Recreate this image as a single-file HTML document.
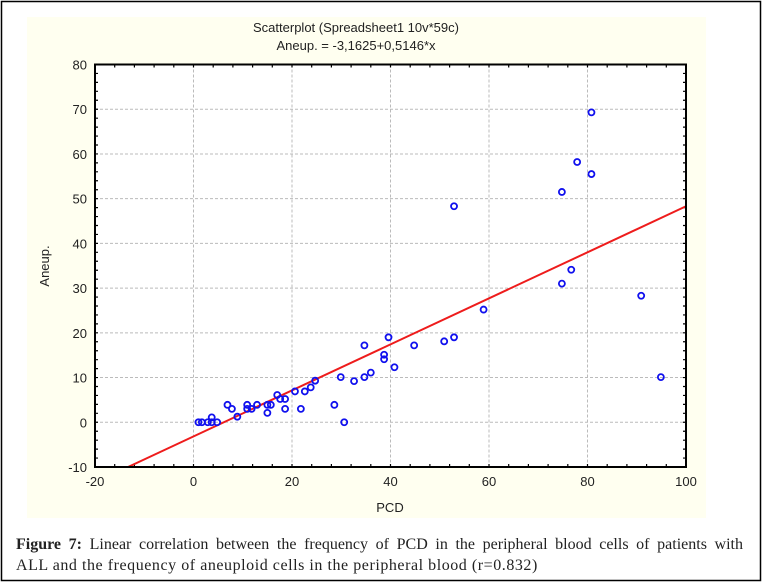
<!DOCTYPE html>
<html><head><meta charset="utf-8"><style>
body{margin:0;background:#fff;}
#wrap{position:relative;width:764px;height:584px;overflow:hidden;background:#fff;}
.cap{position:absolute;left:16px;width:727px;font-family:"Liberation Serif",serif;font-size:16px;line-height:20px;color:#222;white-space:nowrap;}
#cap1{top:535px;text-align:justify;text-align-last:justify;}
#cap2{top:556px;letter-spacing:0.55px;}
</style></head><body>
<div id="wrap">
<svg width="764" height="584" style="position:absolute;left:0;top:0">
<rect x="1.5" y="1.5" width="759" height="579" fill="none" stroke="#000" stroke-width="1.5"/>
<rect x="27" y="17" width="679" height="501" fill="#fffff0"/>
<g font-family="Liberation Sans, sans-serif" fill="#222">
<text x="356" y="32" font-size="13" text-anchor="middle">Scatterplot (Spreadsheet1 10v*59c)</text>
<text x="356" y="50" font-size="13" text-anchor="middle">Aneup. = -3,1625+0,5146*x</text>
<text x="390" y="512" font-size="13" text-anchor="middle">PCD</text>
<text transform="translate(49,266) rotate(-90)" font-size="13" text-anchor="middle">Aneup.</text>
</g>
<g id="plot"></g>
</svg>
<div class="cap" id="cap1"><b>Figure 7:</b> Linear correlation between the frequency of PCD in the peripheral blood cells of patients with</div>
<div class="cap" id="cap2">ALL and the frequency of aneuploid cells in the peripheral blood (r=0.832)</div>
</div>
<script>
const xTicks=[-20,0,20,40,60,80,100];
const yTicks=[-10,0,10,20,30,40,50,60,70,80];
const pcd=[1.0,1.7,2.9,3.7,3.7,4.8,6.9,7.8,8.9,10.9,10.9,11.8,12.9,15.0,15.0,15.7,17.0,17.6,18.6,18.6,20.6,21.8,22.6,23.8,24.7,
28.6,30.6,29.9,32.6,34.7,34.7,36.0,38.7,38.7,39.6,40.8,44.8,50.9,52.9,58.9,
52.9,74.8,77.9,80.8,80.8,76.7,74.8,90.9,94.9];
const aneup=[0,0,0,1.1,0,0,3.9,3.0,1.25,3.9,3.0,3.0,3.9,3.9,2.1,3.9,6.1,5.2,5.2,3.0,6.9,3.0,6.9,7.8,9.3,
3.9,0,10.1,9.2,10.1,17.2,11.1,15.1,14.1,19.0,12.3,17.2,18.1,19.0,25.2,
48.3,51.5,58.2,69.3,55.5,34.1,31.0,28.3,10.1];
const intercept=-3.1625, slope=0.5146;
const X0=95,X1=686,Y0=467,Y1=64.5,xmin=-20,xmax=100,ymin=-10,ymax=80;
const sx=v=>X0+(v-xmin)/(xmax-xmin)*(X1-X0);
const sy=v=>Y0-(v-ymin)/(ymax-ymin)*(Y0-Y1);
const NS='http://www.w3.org/2000/svg';
const g=document.getElementById('plot');
function mk(t,a,p){const e=document.createElementNS(NS,t);for(const k in a)e.setAttribute(k,a[k]);(p||g).appendChild(e);return e;}
const bg=mk('rect',{x:X0,y:Y1,width:X1-X0,height:Y0-Y1,fill:'#fff'});


xTicks.forEach(v=>{
 if(v>xmin&&v<xmax){const l=mk('line',{x1:sx(v),x2:sx(v),y1:Y1,y2:Y0,stroke:'#bbb','stroke-dasharray':'3,2','stroke-width':1});
 
 }
 const t=mk('text',{x:sx(v),y:Y0+19,'font-size':13,'text-anchor':'middle','font-family':'Liberation Sans, sans-serif',fill:'#222'});
 t.textContent=v;
 
 
});
yTicks.forEach(v=>{
 if(v>ymin&&v<ymax){const l=mk('line',{x1:X0,x2:X1,y1:sy(v),y2:sy(v),stroke:'#bbb','stroke-dasharray':'3,2','stroke-width':1});
 
 }
 const t=mk('text',{x:X0-8,y:sy(v)+5,'font-size':13,'text-anchor':'end','font-family':'Liberation Sans, sans-serif',fill:'#222'});
 t.textContent=v;
 
 
});
let mt='';
for(let v=xmin;v<=xmax;v+=4){mt+=`M${sx(v)},${Y0}v-3M${sx(v)},${Y1}v3`;}
for(let v=ymin;v<=ymax;v+=2){mt+=`M${X0},${sy(v)}h3M${X1},${sy(v)}h-3`;}
const ticks=mk('path',{d:mt,stroke:'#000','stroke-width':1.2,fill:'none'});


const xa=(ymin-intercept)/slope;
const rl=mk('line',{x1:sx(xa),y1:sy(ymin),x2:sx(xmax),y2:sy(intercept+slope*xmax),stroke:'#ee1c1c','stroke-width':2});


pcd.forEach((v,i)=>{
 const c=mk('circle',{cx:sx(v),cy:sy(aneup[i]),r:3,fill:'none',stroke:'#1010ee','stroke-width':1.8});
 
 
});
const fr=mk('rect',{x:X0,y:Y1,width:X1-X0,height:Y0-Y1,fill:'none',stroke:'#000','stroke-width':2});


</script>
</body></html>
